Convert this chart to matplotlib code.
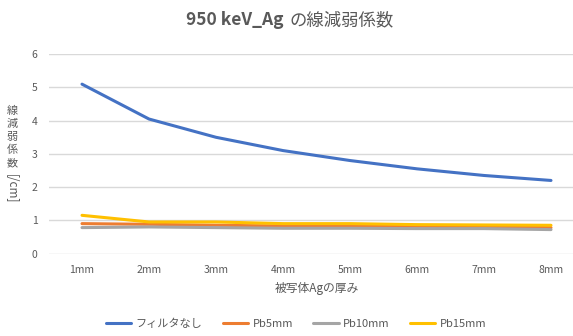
import matplotlib
matplotlib.use("Agg")
from matplotlib import pyplot as plt

plt.rcParams['font.family'] = ['Noto Sans CJK JP', 'DejaVu Sans']

thickness = ["1mm", "2mm", "3mm", "4mm", "5mm", "6mm", "7mm", "8mm"]
no_filter = [5.1, 4.05, 3.5, 3.1, 2.8, 2.55, 2.35, 2.2]
pb5 = [0.9, 0.88, 0.85, 0.83, 0.83, 0.82, 0.8, 0.78]
pb10 = [0.78, 0.8, 0.78, 0.76, 0.76, 0.75, 0.75, 0.72]
pb15 = [1.15, 0.95, 0.95, 0.9, 0.9, 0.87, 0.86, 0.85]

labels = ["フィルタなし", "Pb5mm", "Pb10mm", "Pb15mm"]
colors = ["#4472C4", "#ED7D31", "#A5A5A5", "#FFC000"]
txt = "#595959"

fig = plt.figure(figsize=(5.73, 3.36), dpi=100)
ax = fig.add_axes([48.5 / 573, 0.2455, 536 / 573, 0.593])

x = range(len(thickness))
for ys, lab, c in zip([no_filter, pb5, pb10, pb15], labels, colors):
    ax.plot(x, ys, color=c, lw=2.2, label=lab, solid_capstyle='round')

ax.set_xlim(-0.5, 7.5)
ax.set_ylim(0, 6)
ax.set_yticks(range(7))
ax.set_xticks(list(x))
ax.set_xticklabels(thickness)
ax.tick_params(length=0, colors=txt, labelsize=7.5)
ax.tick_params(axis='y', pad=8)
ax.tick_params(axis='x', pad=8)
ax.grid(axis='y', color="#D9D9D9", lw=1)
ax.set_axisbelow(True)
for s in ax.spines.values():
    s.set_visible(False)

ax.set_xlabel("被写体Agの厚み", color=txt, fontsize=8.5, labelpad=5)

# stacked y label, one character at a time
for i, ch in enumerate("線減弱係数"):
    fig.text(12 / 573, 1 - (111 + 13 * i) / 336, ch, color=txt, fontsize=8,
             ha='center', va='center')
fig.text(12 / 573, 1 - 189 / 336, "[/cm]", color=txt, fontsize=8.5,
         ha='center', va='center', rotation=270)

# title
fig.text(284 / 573, 1 - 20 / 336, "950 keV_Ag", color=txt, fontsize=12.5,
         fontweight='bold', ha='right', va='center')
fig.text(289 / 573, 1 - 20 / 336, "の線減弱係数", color=txt, fontsize=12.5,
         ha='left', va='center')

fig.legend(loc='center', bbox_to_anchor=(296 / 573, 1 - 324 / 336), ncol=4,
           frameon=False, fontsize=8, labelcolor=txt, handlelength=2.3,
           handletextpad=0.4, columnspacing=1.8)

fig.savefig("out.png", dpi=100)
